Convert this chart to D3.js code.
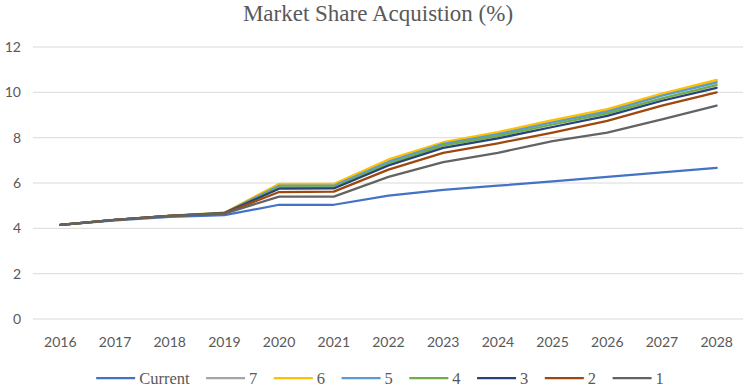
<!DOCTYPE html>
<html>
<head>
<meta charset="utf-8">
<script src="https://cdn.jsdelivr.net/npm/d3@7"></script>
<style>
  html, body { margin: 0; padding: 0; background: #fff; }
  svg { display: block; }
</style>
</head>
<body>
<svg id="chart" width="744" height="390"></svg>
<script>
const years = ["2016","2017","2018","2019","2020","2021","2022","2023","2024","2025","2026","2027","2028"];
const seriesNames = ["Current","7","6","5","4","3","2","1"];
const current = [4.15, 4.35, 4.50, 4.58, 5.04, 5.04, 5.44, 5.70, 5.88, 6.07, 6.27, 6.47, 6.67];
const s7 = [4.15, 4.37, 4.55, 4.68, 5.94, 5.94, 7.00, 7.77, 8.20, 8.73, 9.20, 9.90, 10.50];
const s6 = [4.15, 4.37, 4.56, 4.69, 5.96, 5.96, 7.04, 7.80, 8.25, 8.77, 9.26, 9.95, 10.55];
const s5 = [4.15, 4.37, 4.55, 4.68, 5.88, 5.88, 6.93, 7.73, 8.15, 8.67, 9.15, 9.85, 10.43];
const s4 = [4.15, 4.37, 4.55, 4.67, 5.81, 5.81, 6.84, 7.66, 8.07, 8.58, 9.07, 9.73, 10.32];
const s3 = [4.15, 4.37, 4.55, 4.67, 5.75, 5.76, 6.77, 7.55, 7.97, 8.47, 8.96, 9.63, 10.20];
const s2 = [4.15, 4.37, 4.55, 4.66, 5.60, 5.62, 6.59, 7.33, 7.75, 8.22, 8.74, 9.41, 10.00];
const s1 = [4.15, 4.37, 4.55, 4.65, 5.40, 5.40, 6.27, 6.92, 7.33, 7.85, 8.22, 8.81, 9.41];
const yTicks = [0, 2, 4, 6, 8, 10, 12];
const colors = ["#4472C4","#A5A5A5","#FFC000","#5B9BD5","#70AD47","#264478","#9E480E","#636363"];
const allValues = [current, s7, s6, s5, s4, s3, s2, s1];

(function () {
const svg = d3.select("#chart");
const mLeft = 33, mRight = 744, mTop = 47, mBottom = 319;

const x = d3.scaleBand().domain(years).range([mLeft, mRight]).paddingInner(0).paddingOuter(0);
const y = d3.scaleLinear().domain([0, 12]).range([mBottom, mTop]);

// gridlines
svg.append("g").selectAll("line").data(yTicks).join("line")
  .attr("x1", mLeft).attr("x2", mRight - 1)
  .attr("y1", d => y(d)).attr("y2", d => y(d))
  .attr("stroke", "#d9d9d9").attr("stroke-width", 1);

// y labels
svg.append("g").selectAll("text").data(yTicks).join("text")
  .attr("x", 21).attr("y", d => y(d)).attr("dy", "0.35em")
  .attr("text-anchor", "end")
  .attr("font-family", "Lato, 'Open Sans', sans-serif").attr("font-size", 14)
  .attr("fill", "#595959").text(d => d);

// x labels
svg.append("g").selectAll("text").data(years).join("text")
  .attr("x", d => x(d) + x.bandwidth() / 2).attr("y", 342).attr("dy", "0.35em")
  .attr("text-anchor", "middle")
  .attr("font-family", "Lato, 'Open Sans', sans-serif").attr("font-size", 14)
  .attr("fill", "#595959").text(d => d);

// title
svg.append("text").attr("x", 378).attr("y", 21)
  .attr("text-anchor", "middle")
  .attr("font-family", "'Liberation Serif', 'DejaVu Serif', serif").attr("font-size", 23)
  .attr("fill", "#595959").text("Market Share Acquistion (%)");

// lines
const line = d3.line().x((d, i) => x(years[i]) + x.bandwidth() / 2).y(d => y(d));
svg.append("g").selectAll("path").data(allValues).join("path")
  .attr("d", d => line(d))
  .attr("fill", "none")
  .attr("stroke", (d, i) => colors[i])
  .attr("stroke-width", 2.25)
  .attr("stroke-linejoin", "round").attr("stroke-linecap", "round");

// legend
const lg = svg.append("g");
const ly = 378;
const lineLen = 39, textGap = 4, itemGap = 16.5;
let cx = 0;
const items = [];
seriesNames.forEach((name, i) => {
  const g = lg.append("g");
  g.append("line").attr("x1", 0).attr("x2", lineLen).attr("y1", 0).attr("y2", 0)
    .attr("stroke", colors[i]).attr("stroke-width", 2.25);
  const t = g.append("text").attr("x", lineLen + textGap).attr("y", 0).attr("dy", "0.35em")
    .attr("font-family", "'Liberation Serif', 'DejaVu Serif', serif").attr("font-size", 16.5)
    .attr("fill", "#595959").text(name);
  const w = t.node().getComputedTextLength();
  items.push({ g, x: cx });
  cx += lineLen + textGap + w + itemGap;
});
const total = cx - itemGap;
const start = 380 - total / 2;
items.forEach(it => it.g.attr("transform", `translate(${start + it.x},${ly})`));
})();
</script>
</body>
</html>
